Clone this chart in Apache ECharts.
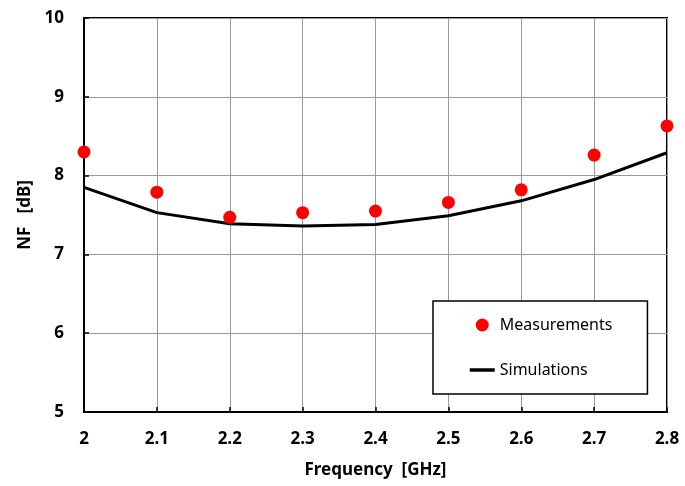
<!DOCTYPE html>
<html>
<head>
<meta charset="utf-8">
<script src="https://cdn.jsdelivr.net/npm/echarts@6/dist/echarts.min.js"></script>
<style>
  html, body { margin: 0; padding: 0; background: #fff; }
  #main { width: 685px; height: 486px; }
</style>
</head>
<body>
<div id="main"></div>
<script>
// frequency points (GHz)
var freq = [2.0, 2.1, 2.2, 2.3, 2.4, 2.5, 2.6, 2.7, 2.8]
// measured NF (dB)
var measured = [8.30, 7.79, 7.47, 7.53, 7.55, 7.66, 7.82, 8.26, 8.63]
// simulated NF (dB)
var simulated = [7.85, 7.53, 7.39, 7.36, 7.38, 7.49, 7.68, 7.95, 8.29]

var font = 'Noto Sans'
var myChart = echarts.init(document.getElementById('main'))

var option = {
  animation: false,
  grid: {
    left: 84,
    right: 18,
    top: 18,
    bottom: 74,
    show: true,
    borderColor: '#000',
    borderWidth: 2
  },
  legend: {
    orient: 'vertical',
    left: 433,
    top: 301,
    padding: [16, 35, 16, 35],
    itemGap: 29,
    itemWidth: 25,
    itemHeight: 13,
    backgroundColor: '#fff',
    borderColor: '#000',
    borderWidth: 1.5,
    textStyle: { fontFamily: font, fontSize: 16, color: '#000' },
    data: [
      { name: 'Measurements', icon: 'circle' },
      { name: 'Simulations', itemStyle: { opacity: 0 }, lineStyle: { width: 3.5, color: '#000' } }
    ]
  },
  xAxis: {
    type: 'value',
    min: 2,
    max: 2.8,
    interval: 0.1,
    name: 'Frequency  [GHz]',
    nameLocation: 'middle',
    nameGap: 50,
    nameTextStyle: { fontFamily: font, fontSize: 17, fontWeight: 'bold', color: '#000' },
    axisLine: { show: true, lineStyle: { color: '#000', width: 2 } },
    axisTick: { show: true, inside: true, length: 5, lineStyle: { color: '#000', width: 1.5 } },
    axisLabel: {
      margin: 19,
      fontFamily: font, fontSize: 17, fontWeight: 'bold', color: '#000',
      formatter: function (v) { return String(parseFloat(v.toFixed(1))) }
    },
    splitLine: { show: true, lineStyle: { color: '#999', width: 1 } }
  },
  yAxis: {
    type: 'value',
    min: 5,
    max: 10,
    interval: 1,
    name: 'NF   [dB]',
    nameLocation: 'middle',
    nameGap: 48,
    nameTextStyle: { fontFamily: font, fontSize: 17, fontWeight: 'bold', color: '#000' },
    axisLine: { show: true, lineStyle: { color: '#000', width: 2 } },
    axisTick: { show: true, inside: true, length: 5, lineStyle: { color: '#000', width: 1.5 } },
    axisLabel: { margin: 20, fontFamily: font, fontSize: 17, fontWeight: 'bold', color: '#000' },
    splitLine: { show: true, lineStyle: { color: '#999', width: 1 } }
  },
  series: [
    {
      name: 'Simulations',
      type: 'line',
      symbol: 'none',
      lineStyle: { color: '#000', width: 3 },
      itemStyle: { color: '#000' },
      data: freq.map(function (f, i) { return [f, simulated[i]] }),
      z: 2
    },
    {
      name: 'Measurements',
      type: 'scatter',
      symbol: 'circle',
      symbolSize: 13,
      itemStyle: { color: '#ff0000', opacity: 1 },
      data: freq.map(function (f, i) { return [f, measured[i]] }),
      z: 3
    }
  ]
}

myChart.setOption(option)
</script>
</body>
</html>
